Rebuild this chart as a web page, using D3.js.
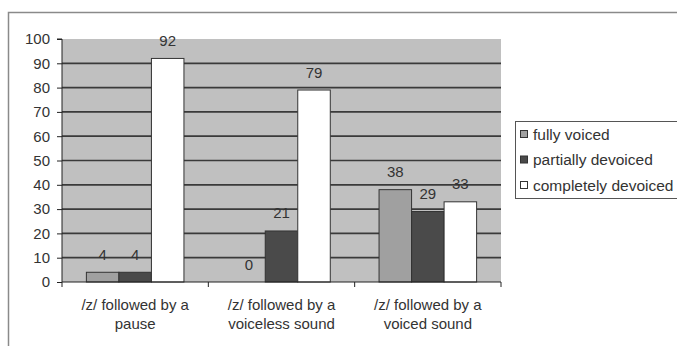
<!DOCTYPE html>
<html>
<head>
<meta charset="utf-8">
<script src="https://cdn.jsdelivr.net/npm/d3@7/dist/d3.min.js"></script>
<style>
  html, body { margin: 0; padding: 0; background: #fff; }
  svg { display: block; font-family: "Liberation Sans", Arial, sans-serif; }
</style>
</head>
<body>
<svg id="chart" width="677" height="346"></svg>
<script>
// Contexts of /z/ and the share of each devoicing degree (%)
const categories = [
  ["/z/ followed by a", "pause"],
  ["/z/ followed by a", "voiceless sound"],
  ["/z/ followed by a", "voiced sound"]
];
const seriesNames = ["fully voiced", "partially devoiced", "completely devoiced"];
const fullyVoiced = [4, 0, 38];
const partiallyDevoiced = [4, 21, 29];
const completelyDevoiced = [92, 79, 33];
const yTicks = [0, 10, 20, 30, 40, 50, 60, 70, 80, 90, 100];

const seriesValues = [fullyVoiced, partiallyDevoiced, completelyDevoiced];
const seriesFill = ["#a0a0a0", "#4a4a4a", "#ffffff"];
const textColor = "#333";
const fontSize = 15;

const svg = d3.select("#chart");

// Outer chart frame (top and left edges visible)
svg.append("path")
  .attr("d", "M8.5,346 L8.5,12.5 L677,12.5")
  .attr("fill", "none").attr("stroke", "#8a8a8a").attr("stroke-width", 1.5);

const plot = { left: 62, right: 501, top: 39, bottom: 282 };

const x0 = d3.scaleBand()
  .domain(d3.range(categories.length))
  .range([plot.left, plot.right])
  .paddingInner(0).paddingOuter(0);

const barW = x0.bandwidth() / 4.5;
const x1 = d3.scaleBand()
  .domain(d3.range(seriesNames.length))
  .range([0, barW * 3]);

const y = d3.scaleLinear().domain([0, 100]).range([plot.bottom, plot.top]);

// Plot area background
svg.append("rect")
  .attr("x", plot.left).attr("y", plot.top)
  .attr("width", plot.right - plot.left).attr("height", plot.bottom - plot.top)
  .attr("fill", "#c0c0c0");

// Horizontal gridlines
svg.append("g").selectAll("line")
  .data(yTicks.filter(t => t > 0 && t < 100))
  .join("line")
  .attr("x1", plot.left).attr("x2", plot.right)
  .attr("y1", d => y(d)).attr("y2", d => y(d))
  .attr("stroke", "#3a3a3a").attr("stroke-width", 1.7);

// Bars
const groups = svg.append("g").selectAll("g")
  .data(categories.map((c, i) => i))
  .join("g")
  .attr("transform", i => `translate(${x0(i) + (x0.bandwidth() - barW * 3) / 2},0)`);

groups.selectAll("rect")
  .data(i => seriesValues.map((s, k) => ({ k, v: s[i] })))
  .join("rect")
  .attr("x", d => x1(d.k))
  .attr("width", x1.bandwidth())
  .attr("y", d => y(d.v))
  .attr("height", d => y(0) - y(d.v))
  .attr("fill", d => seriesFill[d.k])
  .attr("stroke", "#333")
  .attr("stroke-width", 1);

// Value labels
groups.selectAll("text")
  .data(i => seriesValues.map((s, k) => ({ k, v: s[i] })))
  .join("text")
  .attr("x", d => x1(d.k) + x1.bandwidth() / 2)
  .attr("y", d => y(d.v) - 12.5)
  .attr("text-anchor", "middle")
  .attr("font-size", fontSize)
  .attr("fill", textColor)
  .text(d => d.v);

// Y axis
const yAxis = d3.axisLeft(y).tickValues(yTicks).tickSize(5).tickPadding(7);
const gy = svg.append("g").attr("transform", `translate(${plot.left},0)`).call(yAxis);
gy.select(".domain").attr("stroke", "#222").attr("d", `M-5,${plot.top}H0V${plot.bottom}`);
gy.selectAll(".tick line").attr("stroke", "#222");
gy.selectAll(".tick text").attr("font-size", fontSize).attr("fill", textColor)
  .attr("font-family", "Liberation Sans, Arial, sans-serif");

// X axis
const xAxis = d3.axisBottom(x0).tickValues([]).tickSize(0);
const gx = svg.append("g").attr("transform", `translate(0,${plot.bottom})`).call(xAxis);
gx.select(".domain").attr("stroke", "#222").attr("d", `M${plot.left},0H${plot.right}`);
const boundaries = d3.range(categories.length + 1).map(i => plot.left + i * x0.bandwidth());
gx.selectAll("line.sep").data(boundaries).join("line").attr("class", "sep")
  .attr("x1", d => d).attr("x2", d => d).attr("y1", 0).attr("y2", 5)
  .attr("stroke", "#222");

// Category labels
const catLabels = svg.append("g").selectAll("text")
  .data(categories.map((c, i) => ({ c, i })))
  .join("text")
  .attr("x", d => x0(d.i) + x0.bandwidth() / 2)
  .attr("y", 310)
  .attr("text-anchor", "middle")
  .attr("font-size", fontSize)
  .attr("fill", textColor);
catLabels.selectAll("tspan")
  .data(d => d.c.map((line, j) => ({ line, j, x: x0(d.i) + x0.bandwidth() / 2 })))
  .join("tspan")
  .attr("x", d => d.x)
  .attr("dy", d => d.j === 0 ? 0 : 18.5)
  .text(d => d.line);

// Legend
const legend = svg.append("g");
legend.append("rect")
  .attr("x", 515.5).attr("y", 121.5).attr("width", 175).attr("height", 77)
  .attr("fill", "#fff").attr("stroke", "#555").attr("stroke-width", 1);
const li = legend.selectAll("g.item").data(seriesNames).join("g").attr("class", "item")
  .attr("transform", (d, i) => `translate(520,${134 + i * 25.5})`);
li.append("rect")
  .attr("x", 0.5).attr("y", -3.5).attr("width", 7).attr("height", 7)
  .attr("fill", (d, i) => seriesFill[i]).attr("stroke", "#333");
li.append("text")
  .attr("x", 13).attr("y", 5.5)
  .attr("font-size", 15.5).attr("fill", textColor)
  .text(d => d);
</script>
</body>
</html>
